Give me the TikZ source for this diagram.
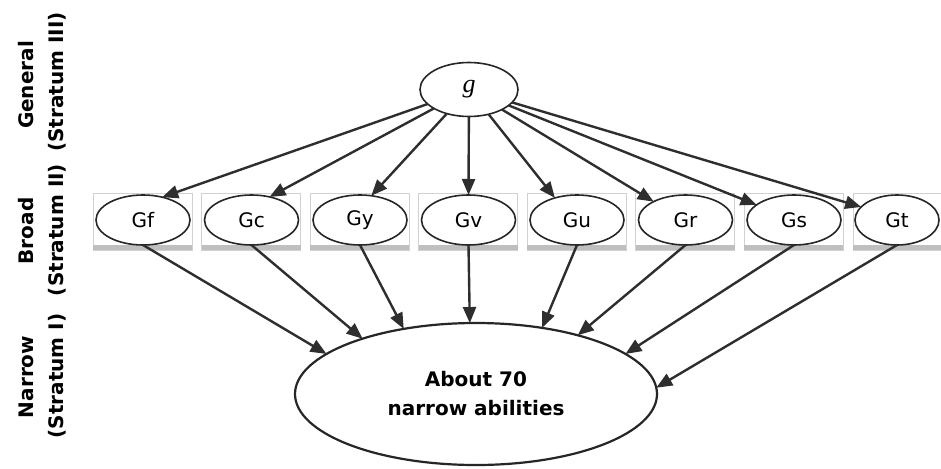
\documentclass[tikz,border=0pt]{standalone}
\usepackage{fontspec}
\setmainfont{DejaVu Sans}
\newfontfamily\gfont{Liberation Serif}
\usetikzlibrary{arrows.meta,shapes.geometric}
\begin{document}
\begin{tikzpicture}[x=1pt,y=-1pt,
  ell/.style={ellipse,draw=black!85,line width=1.6pt,inner sep=0pt,outer sep=0pt,fill=white},
  broad/.style={ell,minimum width=94pt,minimum height=50pt,font=\fontsize{20}{24}\selectfont},
  boxbg/.style={draw=black!18,line width=1pt,fill=white},
  boxbar/.style={fill=black!25,draw=none},
  arr/.style={draw=black!82,line width=2.4pt,-{Triangle[length=16pt,width=13pt]}},
  side/.style={rotate=90,font=\bfseries\fontsize{20}{24}\selectfont,inner sep=0pt}
]
\useasboundingbox[fill=white] (0,0) rectangle (941,468);
% broad boxes
\foreach \c in {143,251.5,360,468.5,577,685.5,794}{
  \draw[boxbg] (\c-50,193) rectangle (\c+49,250);
  \fill[boxbar] (\c-50,245) rectangle (\c+49,250);
}
\draw[boxbg] (853,193) rectangle (945,250);
\fill[boxbar] (853,245) rectangle (945,250);
% nodes
\node[ell,minimum width=98pt,minimum height=54pt] (g) at (469,89.5) {\gfont\itshape\fontsize{26}{30}\selectfont g};
\node[broad] (Gf) at (143,220) {Gf};
\node[broad] (Gc) at (251.5,220) {Gc};
\node[broad] (Gy) at (360,220) {Gy};
\node[broad] (Gv) at (468.5,220) {Gv};
\node[broad] (Gu) at (577,220) {Gu};
\node[broad] (Gr) at (685.5,220) {Gr};
\node[broad] (Gs) at (794,220) {Gs};
\node[broad,minimum width=84pt] (Gt) at (897,220) {Gt};
\node[ell,line width=2.2pt,minimum width=362pt,minimum height=142pt,align=center,
  font=\bfseries\fontsize{20}{29}\selectfont] (N) at (476,394) {About 70\\narrow abilities};
% side labels
\node[side] (l1a) at (26,85) {General};
\node[side] (l1b) at (57,82) {(Stratum III)};
\node[side] (l2a) at (26,231) {Broad};
\node[side] (l2b) at (57,230) {(Stratum II)};
\node[side] (l3a) at (26,377) {Narrow};
\node[side] (l3b) at (57,376) {(Stratum I)};
% arrows from g
\draw[arr] (g) -- (Gf.50);
\draw[arr] (g) -- (Gc.52);
\draw[arr] (g) -- (Gy.65);
\draw[arr] (g) -- (Gv.90);
\draw[arr] (g) -- (Gu.135);
\draw[arr] (g) -- (Gr.150);
\draw[arr] (g) -- (Gs.158);
\draw[arr] (g) -- (Gt.160);
% arrows to narrow
\draw[arr] (Gf.south) -- (N.165);
\draw[arr] (Gc.south) -- (N.154);
\draw[arr] (Gy.south) -- (N.138);
\draw[arr] (Gv.south) -- (N.95);
\draw[arr] (Gu.south) -- (N.45);
\draw[arr] (Gr.south) -- (N.30);
\draw[arr] (Gs.south) -- (N.15);
\draw[arr] (Gt.south) -- (N.2);
\end{tikzpicture}
\end{document}
